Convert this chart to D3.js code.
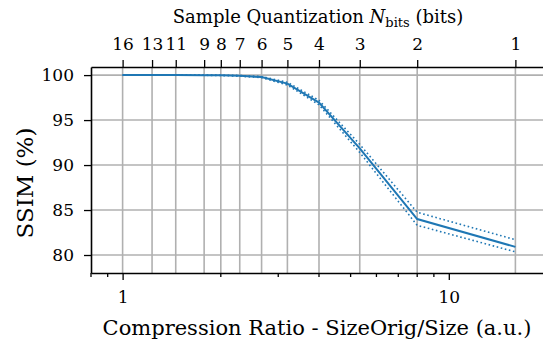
<!DOCTYPE html>
<html>
<head>
<meta charset="UTF-8">
<title>SSIM vs Compression Ratio</title>
<style>
	body { margin: 0; background: #fff; }
	.grid line { stroke: #b0b0b0; stroke-width: 1.6; }
	.axis path, .axis line { stroke: #000; }
	.axis path { stroke-width: 1.6; }
	.axis line { stroke-width: 1.3; }
</style>
</head>
<body>
<div id="chart"></div>
<script src="https://d3js.org/d3.v7.min.js"></script>
<script>
	// data
	var nbits       = [16, 13, 11, 9, 8, 7, 6, 5, 4, 3, 2, 1];
	var compression = [1, 1.231, 1.455, 1.778, 2, 2.286, 2.667, 3.2, 4, 5.333, 8, 16];
	var ssimMean    = [100, 100, 100, 99.99, 99.97, 99.92, 99.78, 99.05, 96.95, 91.85, 84.0, 80.9];
	var ssimUpper   = [100, 100, 100, 100, 99.99, 99.96, 99.84, 99.2, 97.2, 92.3, 84.75, 81.7];
	var ssimLower   = [100, 100, 100, 99.98, 99.95, 99.88, 99.72, 98.9, 96.7, 91.4, 83.3, 80.35];
	var yTicks      = [80, 85, 90, 95, 100];
	var xTicks      = [1, 10];

	var w = 543, h = 343;
	var mLeft = 91, mTop = 67, mRight = 547, mBottom = 273;
	var FONT = "DejaVu Serif";

	var svg = d3.select("#chart").append("svg")
		.attr("width", w)
		.attr("height", h)
		.attr("font-family", FONT);

	var x = d3.scaleLog().domain([0.8, 20]).range([mLeft, mRight]);
	var y = d3.scaleLinear().domain([78, 100.9]).range([mBottom, mTop]);

	// grid lines
	var grid = svg.append("g").attr("class", "grid");
	grid.selectAll("line.v").data(compression).enter().append("line")
		.attr("class", "v")
		.attr("x1", function(d){ return x(d); }).attr("x2", function(d){ return x(d); })
		.attr("y1", mTop).attr("y2", mBottom);
	grid.selectAll("line.h").data(yTicks).enter().append("line")
		.attr("class", "h")
		.attr("x1", mLeft).attr("x2", mRight)
		.attr("y1", function(d){ return y(d); }).attr("y2", function(d){ return y(d); });

	// lines
	var pts = function(arr){ return arr.map(function(v, i){ return [compression[i], v]; }); };
	var line = d3.line()
		.x(function(d){ return x(d[0]); })
		.y(function(d){ return y(d[1]); });

	[ssimUpper, ssimLower].forEach(function(arr){
		svg.append("path")
			.attr("d", line(pts(arr)))
			.attr("fill", "none")
			.attr("stroke", "#1f77b4")
			.attr("stroke-width", 1.6)
			.attr("stroke-dasharray", "1.6,2.6");
	});
	svg.append("path")
		.attr("d", line(pts(ssimMean)))
		.attr("fill", "none")
		.attr("stroke", "#1f77b4")
		.attr("stroke-width", 2);

	// bottom axis
	var minor = [];
	[0.1, 1, 10].forEach(function(dec){
		for (var k = 1; k < 10; k++) {
			var v = k * dec;
			if (v >= 0.8 && v <= 20 && k !== 1) minor.push(v);
		}
	});
	var xAxis = svg.append("g")
		.attr("class", "axis")
		.attr("transform", "translate(0," + mBottom + ")")
		.call(d3.axisBottom(x).tickValues(xTicks).tickFormat(d3.format("d")).tickSize(7).tickPadding(11).tickSizeOuter(0));
	xAxis.selectAll("line.minor").data(minor).enter().append("line")
		.attr("class", "minor")
		.attr("x1", function(d){ return x(d); }).attr("x2", function(d){ return x(d); })
		.attr("y1", 0).attr("y2", 4);

	// top axis (bits)
	var xTop = svg.append("g")
		.attr("class", "axis")
		.attr("transform", "translate(0," + mTop + ")")
		.call(d3.axisTop(x).tickValues(compression)
			.tickFormat(function(d, i){ return nbits[i]; })
			.tickSize(7).tickPadding(10).tickSizeOuter(0));

	// left axis
	var yAxis = svg.append("g")
		.attr("class", "axis")
		.attr("transform", "translate(" + mLeft + ",0)")
		.call(d3.axisLeft(y).tickValues(yTicks).tickSize(7).tickPadding(10).tickSizeOuter(0));

	svg.selectAll(".axis").attr("font-family", FONT).attr("font-size", 17);

	// titles
	svg.append("text")
		.attr("x", 317).attr("y", 335)
		.attr("text-anchor", "middle")
		.attr("font-size", 21)
		.text("Compression Ratio - SizeOrig/Size (a.u.)");

	var tt = svg.append("text")
		.attr("x", 318).attr("y", 23)
		.attr("text-anchor", "middle")
		.attr("font-size", 18);
	tt.append("tspan").text("Sample Quantization ");
	tt.append("tspan").attr("font-style", "italic").text("N");
	tt.append("tspan").attr("font-size", 13).attr("dy", 4).text("bits");
	tt.append("tspan").attr("dy", -4).text(" (bits)");

	svg.append("text")
		.attr("transform", "translate(33,183) rotate(-90)")
		.attr("text-anchor", "middle")
		.attr("font-size", 23)
		.text("SSIM (%)");
</script>
</body>
</html>
